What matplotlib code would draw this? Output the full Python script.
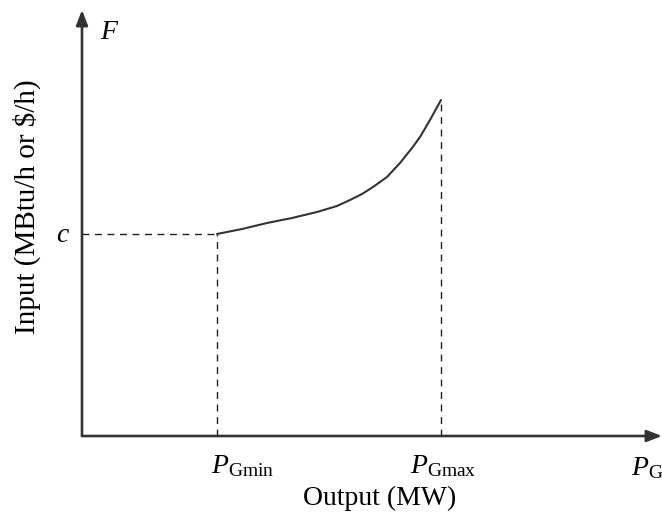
import matplotlib
matplotlib.use("Agg")
from matplotlib import pyplot as plt

# ------------------------------------------------------------- #
# Data (units on both axes are arbitrary)
# ------------------------------------------------------------- #

p_gmin = 135
p_gmax = 359
c_value = 202

curve_p = [135, 160, 185, 210, 235, 255, 268, 280, 291, 305, 318, 330, 338, 348, 359]
curve_f = [202, 207, 213, 218, 224, 230, 236, 242, 249, 259, 273, 288, 299, 316, 336]

x_limit = 580
y_limit = 426

plt.rcParams["font.family"] = ["Liberation Serif", "DejaVu Serif"]
plt.rcParams["mathtext.fontset"] = "custom"
plt.rcParams["mathtext.rm"] = "Liberation Serif"
plt.rcParams["mathtext.it"] = "Liberation Serif:italic"

W, H = 662, 513
fig = plt.figure(figsize=(W / 100, H / 100), dpi=100)
ax = fig.add_axes([82 / W, (H - 436) / H, x_limit / W, y_limit / H])
ax.set_xlim(0, x_limit)
ax.set_ylim(0, y_limit)
ax.axis("off")

axis_color = "#333333"
arrow = dict(arrowstyle="-|>,head_length=0.9,head_width=0.35",
             color=axis_color, lw=1.9, shrinkA=0, shrinkB=0)
# axes with arrow heads
ax.annotate("", xy=(0, 1), xytext=(0, 0), xycoords="axes fraction",
            arrowprops=arrow, annotation_clip=False)
ax.annotate("", xy=(1, 0), xytext=(0, 0), xycoords="axes fraction",
            arrowprops=arrow, annotation_clip=False)

dash = dict(color="#222222", lw=1.0, linestyle=(0, (5, 4)))
ax.plot([0, p_gmin], [c_value, c_value], **dash)
ax.plot([p_gmin, p_gmin], [0, c_value], **dash)
ax.plot([p_gmax, p_gmax], [0, curve_f[-1]], **dash)

ax.plot(curve_p, curve_f, color="#333333", lw=1.5, solid_capstyle="round")

fs = 20
ax.text(18, 397, "$F$", fontsize=fs, ha="left", va="baseline")
ax.text(-12, c_value - 8, "$c$", fontsize=fs, ha="right", va="baseline")
ax.text(p_gmin - 6, -37, r"$P_{\mathrm{Gmin}}$", fontsize=fs, ha="left", va="baseline")
ax.text(p_gmax - 31, -37, r"$P_{\mathrm{Gmax}}$", fontsize=fs, ha="left", va="baseline")
ax.text(x_limit - 31, -39, r"$P_{\mathrm{G}}$", fontsize=fs, ha="left", va="baseline",
        clip_on=False)
ax.text(221, -69, "Output (MW)", fontsize=fs, ha="left", va="baseline")
ax.text(-55, 229, "Input (MBtu/h or $/h)", fontsize=21, ha="center", va="center",
        rotation=90)

fig.savefig("out.png", dpi=100, facecolor="white")
